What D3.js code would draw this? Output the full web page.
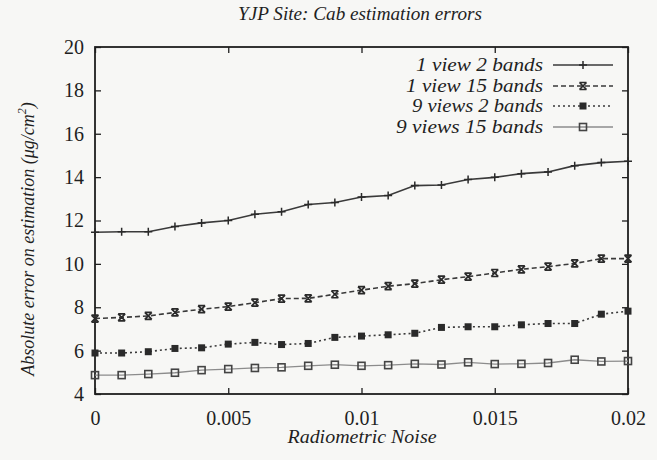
<!DOCTYPE html>
<html>
<head>
<meta charset="utf-8">
<script src="https://cdn.jsdelivr.net/npm/d3@7"></script>
</head>
<body style="margin:0;background:#f7f7f5">
<svg id="chart" width="657" height="460" style="display:block"></svg>
<script>
// Radiometric noise levels (x) and the four error curves
const noise = [0, 0.001, 0.002, 0.003, 0.004, 0.005, 0.006, 0.007, 0.008, 0.009, 0.010,
               0.011, 0.012, 0.013, 0.014, 0.015, 0.016, 0.017, 0.018, 0.019, 0.020];
const view1Bands2  = [11.46, 11.48, 11.48, 11.72, 11.89, 12.00, 12.29, 12.40, 12.74, 12.83, 13.08,
                      13.15, 13.61, 13.64, 13.89, 13.99, 14.16, 14.24, 14.53, 14.67, 14.73];
const view1Bands15 = [7.48, 7.53, 7.60, 7.76, 7.91, 8.03, 8.21, 8.40, 8.41, 8.60, 8.79,
                      8.97, 9.09, 9.27, 9.41, 9.58, 9.75, 9.87, 10.02, 10.24, 10.24];
const views9Bands2 = [5.89, 5.89, 5.95, 6.10, 6.13, 6.30, 6.38, 6.28, 6.33, 6.61, 6.67,
                      6.73, 6.80, 7.07, 7.10, 7.10, 7.19, 7.25, 7.25, 7.68, 7.82];
const views9Bands15 = [4.87, 4.87, 4.92, 4.98, 5.10, 5.15, 5.20, 5.23, 5.30, 5.35, 5.30,
                       5.33, 5.39, 5.36, 5.46, 5.38, 5.39, 5.43, 5.58, 5.50, 5.52];
const seriesNames = ["1 view 2 bands", "1 view 15 bands", "9 views 2 bands", "9 views 15 bands"];
const xTicks = [0, 0.005, 0.01, 0.015, 0.02];
const xTickLabels = ["0", "0.005", "0.01", "0.015", "0.02"];
const yTicks = [4, 6, 8, 10, 12, 14, 16, 18, 20];

const FONT = "Liberation Serif";
const INK = "#1f1f1f";

const svg = d3.select("#chart");
const m = { left: 95, right: 628, top: 47, bottom: 394 };

const x = d3.scaleLinear().domain([0, 0.02]).range([m.left, m.right]);
const y = d3.scaleLinear().domain([4, 20]).range([m.bottom, m.top]);

const styles = [
  { stroke: "#3a3a3a", width: 1.6, dash: null,  marker: "plus" },
  { stroke: "#3a3a3a", width: 1.6, dash: "5,3", marker: "cross" },
  { stroke: "#3a3a3a", width: 1.6, dash: "2,3", marker: "filled" },
  { stroke: "#8c8c8c", width: 1.3, dash: null,  marker: "open" }
];
const seriesValues = [view1Bands2, view1Bands15, views9Bands2, views9Bands15];

// Serif text helper: sets the family both as attribute and inline style
function serif(sel, size, italic) {
  sel.attr("font-family", FONT).style("font-family", FONT)
    .attr("font-size", size).style("font-size", size + "px")
    .attr("fill", INK);
  if (italic) sel.attr("font-style", "italic").style("font-style", "italic");
  return sel;
}

// Ticks on all four sides, pointing inwards
const tickLen = 6;
const axisLeft = d3.axisLeft(y).tickValues(yTicks).tickSizeInner(-tickLen).tickSizeOuter(0).tickPadding(11);
const axisRight = d3.axisRight(y).tickValues(yTicks).tickSizeInner(-tickLen).tickSizeOuter(0).tickFormat("");
const axisBottom = d3.axisBottom(x).tickValues(xTicks).tickSizeInner(-tickLen).tickSizeOuter(0)
  .tickPadding(17).tickFormat((d, i) => xTickLabels[i]);
const axisTop = d3.axisTop(x).tickValues(xTicks).tickSizeInner(-tickLen).tickSizeOuter(0).tickFormat("");

function styleAxis(g) {
  g.attr("font-family", FONT).style("font-family", FONT);
  g.select(".domain").remove();
  g.selectAll("line").attr("stroke", INK).attr("stroke-width", 1.3);
  serif(g.selectAll("text"), 20, false);
}

svg.append("g").attr("transform", `translate(${m.left},0)`).call(axisLeft).call(styleAxis);
svg.append("g").attr("transform", `translate(${m.right},0)`).call(axisRight).call(styleAxis);
svg.append("g").attr("transform", `translate(0,${m.bottom})`).call(axisBottom).call(styleAxis);
svg.append("g").attr("transform", `translate(0,${m.top})`).call(axisTop).call(styleAxis);

// Plot frame
svg.append("rect")
  .attr("x", m.left).attr("y", m.top)
  .attr("width", m.right - m.left).attr("height", m.bottom - m.top)
  .attr("fill", "none").attr("stroke", INK).attr("stroke-width", 1.8);

function drawMarker(g, type, cx, cy) {
  const c = "#2a2a2a";
  if (type === "plus") {
    g.append("path").attr("d", `M${cx - 4},${cy}H${cx + 4}M${cx},${cy - 4}V${cy + 4}`)
      .attr("stroke", c).attr("stroke-width", 1.5);
  } else if (type === "cross") {
    g.append("path")
      .attr("d", `M${cx - 3.5},${cy - 3.5}L${cx + 3.5},${cy + 3.5}M${cx - 3.5},${cy + 3.5}L${cx + 3.5},${cy - 3.5}M${cx - 3.5},${cy - 3.5}H${cx + 3.5}M${cx - 3.5},${cy + 3.5}H${cx + 3.5}`)
      .attr("stroke", c).attr("stroke-width", 1.7).attr("fill", "none");
  } else if (type === "filled") {
    g.append("rect").attr("x", cx - 3.5).attr("y", cy - 3.5).attr("width", 7).attr("height", 7)
      .attr("fill", c);
  } else {
    g.append("rect").attr("x", cx - 3.5).attr("y", cy - 3.5).attr("width", 7).attr("height", 7)
      .attr("fill", "none").attr("stroke", "#444").attr("stroke-width", 1.6);
  }
}

const line = d3.line().x(d => x(d[0])).y(d => y(d[1]));

seriesValues.forEach((vals, i) => {
  const st = styles[i];
  const pts = noise.map((n, k) => [n, vals[k]]);
  const g = svg.append("g");
  g.append("path").datum(pts).attr("d", line)
    .attr("fill", "none").attr("stroke", st.stroke).attr("stroke-width", st.width)
    .attr("stroke-dasharray", st.dash);
  pts.forEach(p => drawMarker(g, st.marker, x(p[0]), y(p[1])));
});

// Legend, top right inside the frame
const legRows = [65, 86, 106, 127];
const legWidths = [127, 137, 131, 147];
seriesNames.forEach((name, i) => {
  const st = styles[i];
  const ly = legRows[i];
  serif(svg.append("text"), 19, true)
    .attr("x", 543).attr("y", ly + 6).attr("text-anchor", "end")
    .attr("textLength", legWidths[i]).attr("lengthAdjust", "spacingAndGlyphs")
    .text(name);
  svg.append("line").attr("x1", 553).attr("x2", 613).attr("y1", ly).attr("y2", ly)
    .attr("stroke", st.stroke).attr("stroke-width", st.width).attr("stroke-dasharray", st.dash);
  drawMarker(svg, st.marker, 583, ly);
});

// Title and axis titles
serif(svg.append("text"), 18, true)
  .attr("x", 360).attr("y", 20).attr("text-anchor", "middle")
  .attr("textLength", 244).attr("lengthAdjust", "spacingAndGlyphs")
  .text("YJP Site: Cab estimation errors");

serif(svg.append("text"), 18, true)
  .attr("x", 362).attr("y", 443).attr("text-anchor", "middle")
  .attr("textLength", 149).attr("lengthAdjust", "spacingAndGlyphs")
  .text("Radiometric Noise");

const yl = serif(svg.append("text"), 18, true)
  .attr("transform", "translate(34,239) rotate(-90)").attr("text-anchor", "middle");
yl.append("tspan").text("Absolute error on estimation (μg/cm");
yl.append("tspan").attr("font-size", 12).style("font-size", "12px").attr("dy", -8).text("2");
yl.append("tspan").attr("dy", 8).text(")");
</script>
</body>
</html>
